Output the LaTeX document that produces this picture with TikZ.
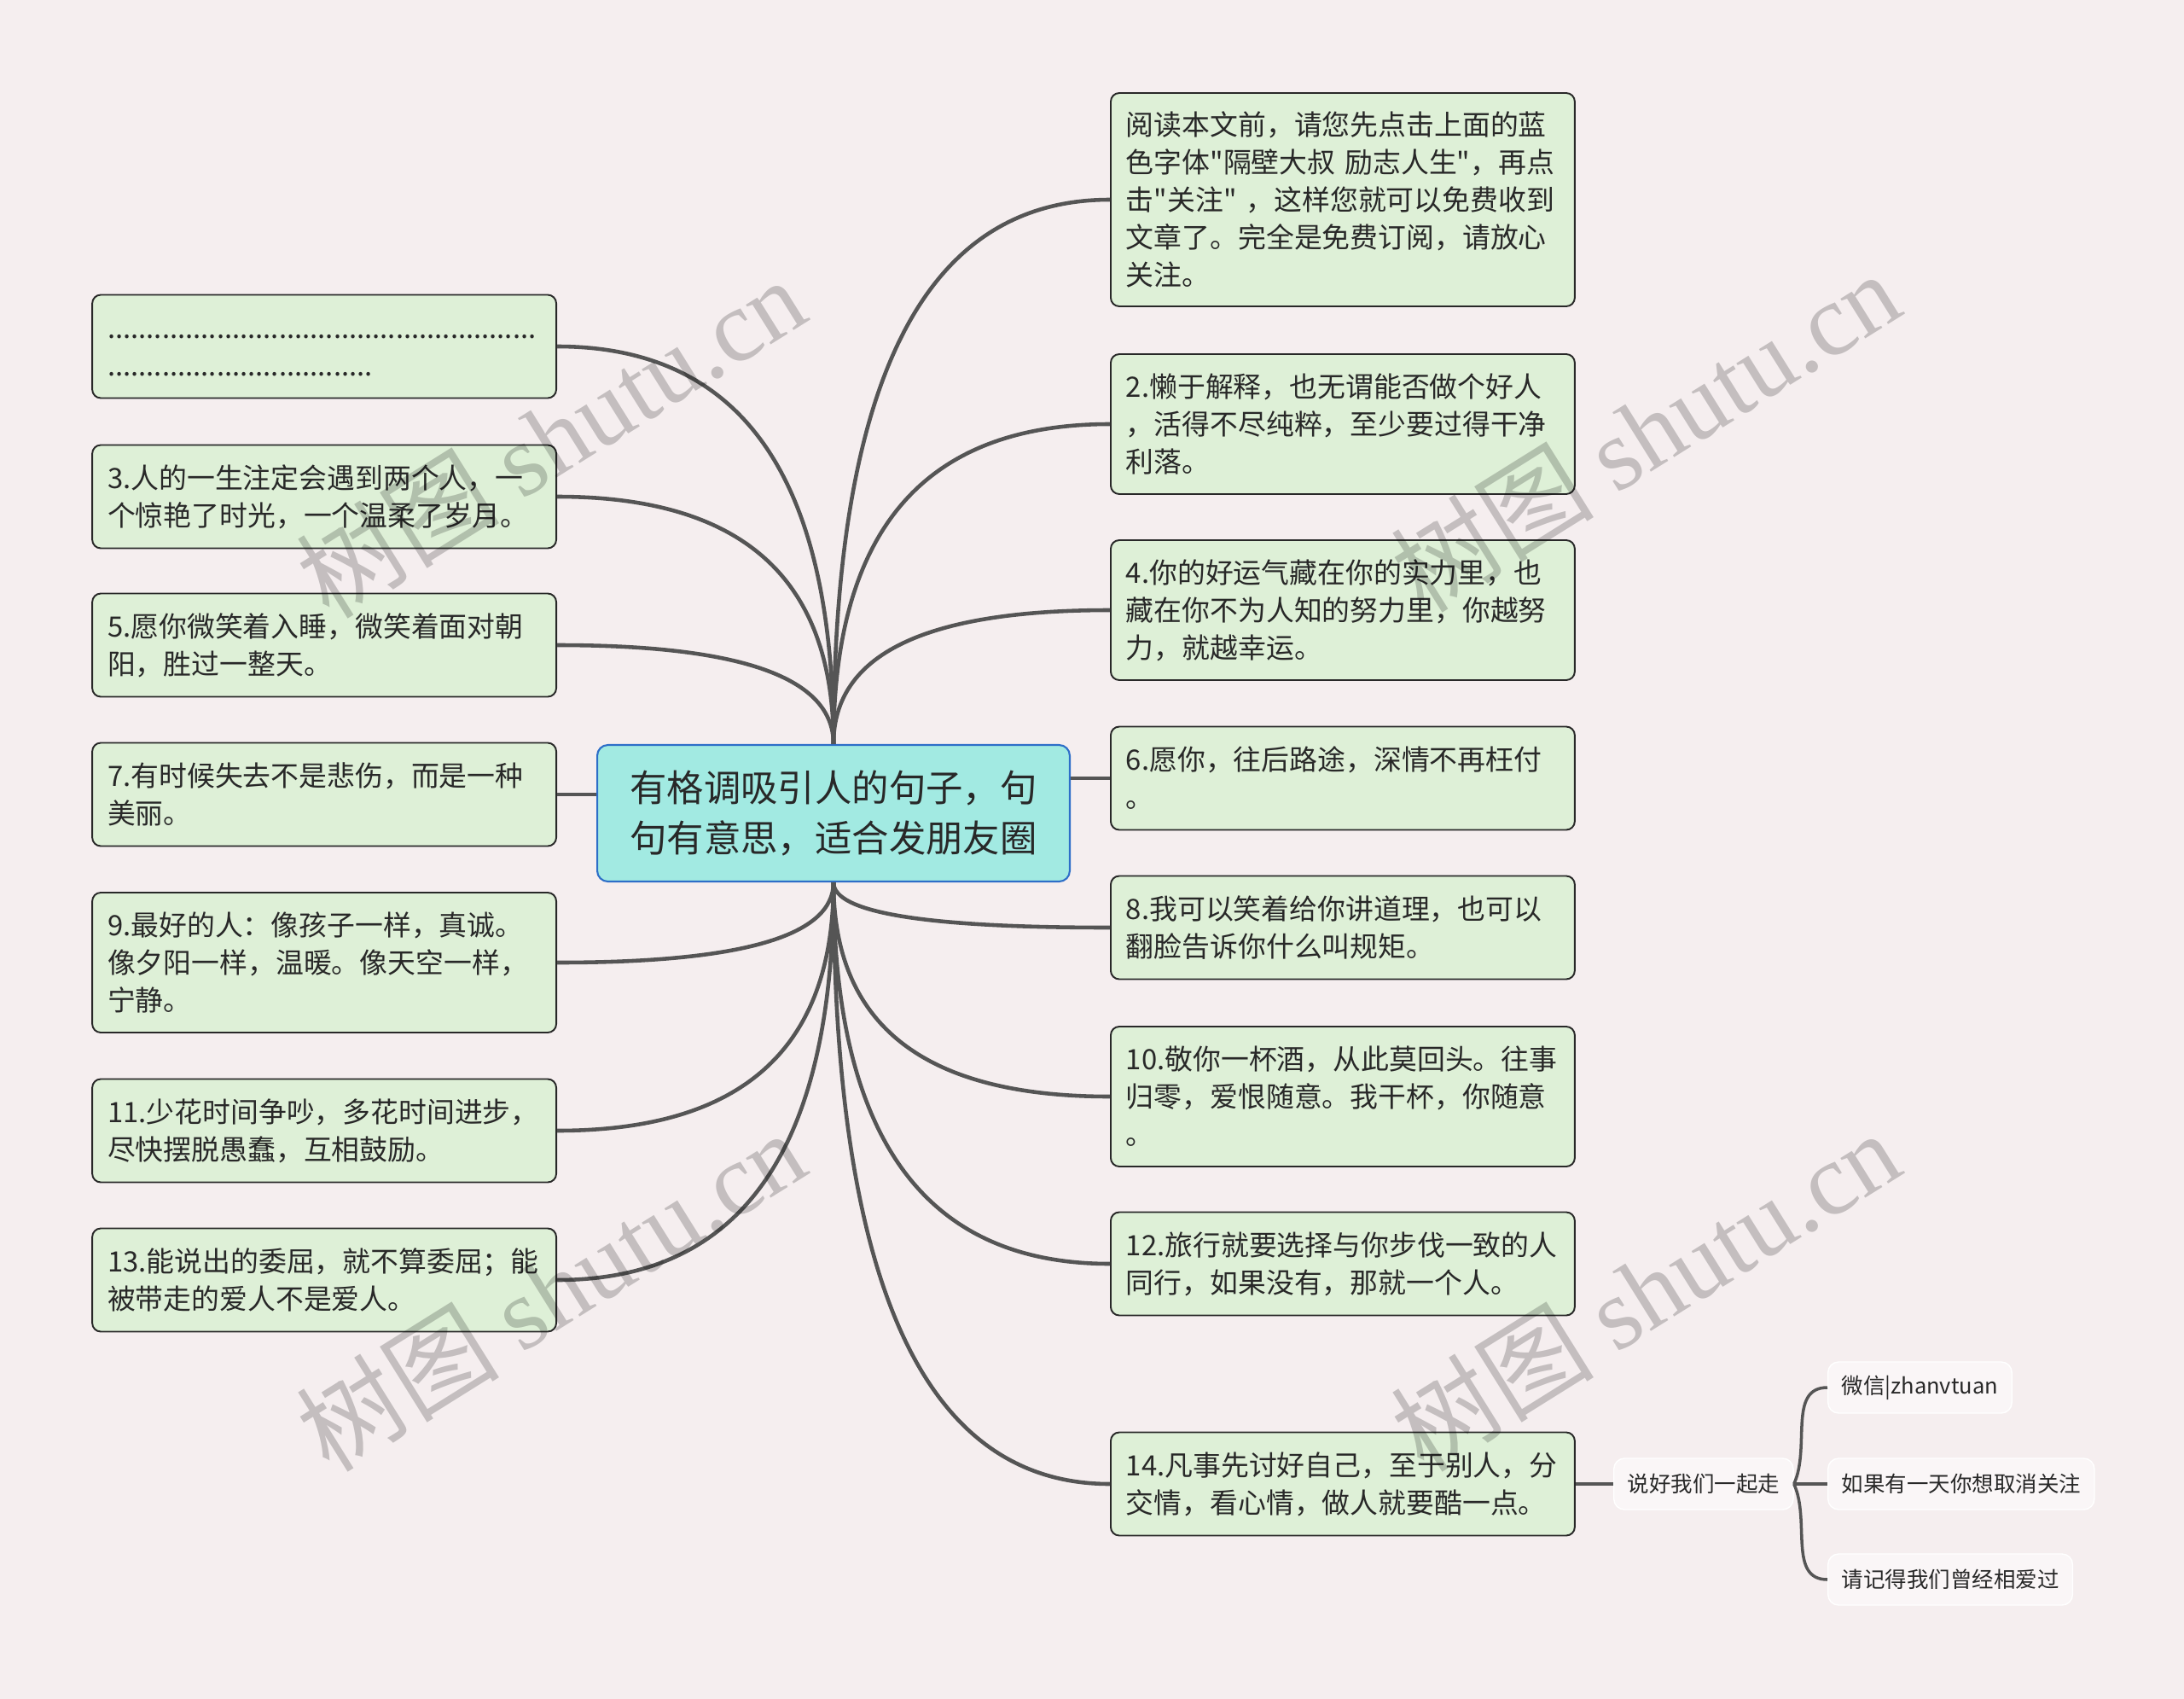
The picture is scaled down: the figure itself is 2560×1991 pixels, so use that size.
\documentclass[tikz,border=0pt]{standalone}
\usepackage{fontspec}
\setmainfont{Noto Sans CJK SC}[Ligatures=TeXOff]
\newfontfamily\wmlatin{Liberation Serif}
\usetikzlibrary{calc}
\definecolor{paper}{RGB}{245,238,239}
\definecolor{leafgreen}{RGB}{222,240,215}
\definecolor{leafline}{RGB}{40,40,40}
\definecolor{hubcyan}{RGB}{162,234,226}
\definecolor{hubline}{RGB}{45,110,200}
\definecolor{linkgray}{RGB}{85,85,85}
\definecolor{inkdark}{RGB}{40,40,40}

\begin{document}
\begin{tikzpicture}[x=0.02cm, y=-0.02cm]
\tikzset{
  hub/.style={draw=hubline, line width=1.2pt, fill=hubcyan, rounded corners=2.5mm, align=center, minimum width=11.08cm, minimum height=3.2cm, text=inkdark, font=\fontsize{24.7pt}{33.3pt}\selectfont},
  leaf/.style={draw=leafline, line width=1.1pt, fill=leafgreen, rounded corners=2mm, text width=10.16cm, align=left, inner xsep=3.6mm, minimum height=2.42cm, text=inkdark, font=\fontsize{18.7pt}{25pt}\selectfont},
  tall/.style={minimum height=3.28cm},
  sub/.style={draw=white, line width=0.8pt, fill=paper!50!white, rounded corners=2.5mm, inner xsep=3.2mm, minimum height=1.2cm, text=inkdark, font=\fontsize{14.5pt}{17pt}\selectfont},
  branch/.style={draw=linkgray, line width=2.6pt},
  wmark/.style={rotate=32, text=black, opacity=0.2, font=\fontsize{68pt}{68pt}\selectfont}
}
\fill[paper] (0,0) rectangle (2560,1991);
\useasboundingbox (0,0) rectangle (2560,1991);

\node[hub] (hub) at (977,953) {有格调吸引人的句子，句\\句有意思，适合发朋友圈};

% right side
\node[leaf, minimum height=5cm, anchor=west] (r1) at (1301,234) {阅读本文前，请您先点击上面的蓝\\色字体"隔壁大叔~励志人生"，再点\\击"关注"~，这样您就可以免费收到\\文章了。完全是免费订阅，请放心\\关注。};
\node[leaf, tall, anchor=west] (r2) at (1301,497) {2.懒于解释，也无谓能否做个好人\\，活得不尽纯粹，至少要过得干净\\利落。};
\node[leaf, tall, anchor=west] (r3) at (1301,715) {4.你的好运气藏在你的实力里，也\\藏在你不为人知的努力里，你越努\\力，就越幸运。};
\node[leaf, anchor=west] (r4) at (1301,912) {6.愿你，往后路途，深情不再枉付\\。};
\node[leaf, anchor=west] (r5) at (1301,1087) {8.我可以笑着给你讲道理，也可以\\翻脸告诉你什么叫规矩。};
\node[leaf, tall, anchor=west] (r6) at (1301,1285) {10.敬你一杯酒，从此莫回头。往事\\归零，爱恨随意。我干杯，你随意\\。};
\node[leaf, anchor=west] (r7) at (1301,1481) {12.旅行就要选择与你步伐一致的人\\同行，如果没有，那就一个人。};
\node[leaf, anchor=west] (r8) at (1301,1739) {14.凡事先讨好自己，至于别人，分\\交情，看心情，做人就要酷一点。};

% left side
\node[leaf, anchor=east] (l1) at (653,406) {\vphantom{阅}.......................................................\\\vphantom{阅}..................................};
\node[leaf, anchor=east] (l2) at (653,582) {3.人的一生注定会遇到两个人，一\\个惊艳了时光，一个温柔了岁月。};
\node[leaf, anchor=east] (l3) at (653,756) {5.愿你微笑着入睡，微笑着面对朝\\阳，胜过一整天。};
\node[leaf, anchor=east] (l4) at (653,931) {7.有时候失去不是悲伤，而是一种\\美丽。};
\node[leaf, tall, anchor=east] (l5) at (653,1128) {9.最好的人：像孩子一样，真诚。\\像夕阳一样，温暖。像天空一样，\\宁静。};
\node[leaf, anchor=east] (l6) at (653,1325) {11.少花时间争吵，多花时间进步，\\尽快摆脱愚蠢，互相鼓励。};
\node[leaf, anchor=east] (l7) at (653,1500) {13.能说出的委屈，就不算委屈；能\\被带走的爱人不是爱人。};

% sub topics
\node[sub, anchor=west] (say) at (1891,1739) {说好我们一起走};
\node[sub, anchor=west] (wx) at (2142,1626) {微信|zhanvtuan};
\node[sub, anchor=west] (quit) at (2142,1739) {如果有一天你想取消关注};
\node[sub, anchor=west] (mem) at (2142,1851) {请记得我们曾经相爱过};

% curved links
\foreach \n in {r1,r2,r3}
  \draw[branch] (hub.north) .. controls ($(hub.north)!.67!(hub.north |- \n.west)$) and ($(\n.west)!.67!(hub.north |- \n.west)$) .. (\n.west);
\foreach \n in {l1,l2,l3}
  \draw[branch] (hub.north) .. controls ($(hub.north)!.67!(hub.north |- \n.east)$) and ($(\n.east)!.67!(hub.north |- \n.east)$) .. (\n.east);
\foreach \n in {r5,r6,r7,r8}
  \draw[branch] (hub.south) .. controls ($(hub.south)!.67!(hub.south |- \n.west)$) and ($(\n.west)!.67!(hub.south |- \n.west)$) .. (\n.west);
\foreach \n in {l5,l6,l7}
  \draw[branch] (hub.south) .. controls ($(hub.south)!.67!(hub.south |- \n.east)$) and ($(\n.east)!.67!(hub.south |- \n.east)$) .. (\n.east);
\draw[branch] (r4.west) -- (r4.west -| hub.east);
\draw[branch] (l4.east) -- (l4.east -| hub.west);

\draw[branch] (r8.east) -- (say.west);
\draw[branch, line width=2pt] (say.east) to[out=65, in=180] (wx.west);
\draw[branch, line width=2pt] (say.east) -- (quit.west);
\draw[branch, line width=2pt] (say.east) to[out=-65, in=180] (mem.west);

% watermarks
\foreach \wx/\wy/\k in {645/512/1, 1928/505/2, 645/1512/3, 1928/1512/4}
  \node[wmark] (wm\k) at (\wx,\wy) {树图 {\wmlatin shutu.cn}};
\end{tikzpicture}
\end{document}
